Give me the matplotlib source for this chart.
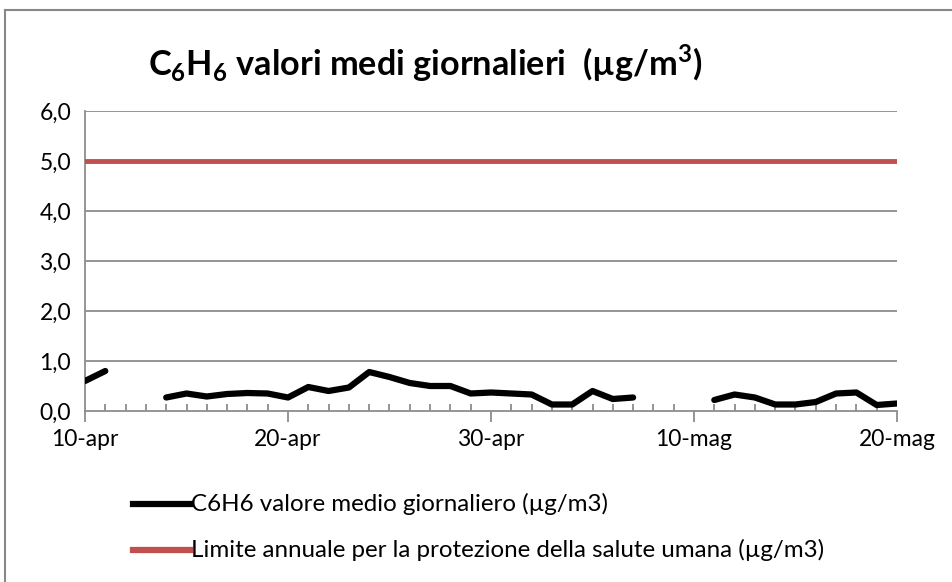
import numpy as np
import matplotlib.pyplot as plt
from matplotlib.lines import Line2D

# giorni dal 10-apr al 20-mag (0..40), NaN = dato mancante
giorni = np.arange(0, 41)
c6h6 = [0.60, 0.80, np.nan, np.nan, 0.27, 0.35, 0.29, 0.34, 0.36, 0.35,
        0.27, 0.48, 0.40, 0.47, 0.78, 0.68, 0.56, 0.50, 0.50, 0.35,
        0.37, 0.35, 0.33, 0.13, 0.13, 0.40, 0.24, 0.27, np.nan, np.nan,
        np.nan, 0.22, 0.33, 0.27, 0.13, 0.13, 0.18, 0.35, 0.37, 0.12,
        0.15]
limite = 5.0
tick_pos = [0, 10, 20, 30, 40]
tick_lab = ['10-apr', '20-apr', '30-apr', '10-mag', '20-mag']
y_ticks = [0, 1, 2, 3, 4, 5, 6]
y_lab = ['0,0', '1,0', '2,0', '3,0', '4,0', '5,0', '6,0']

plt.rcParams['font.family'] = ['Lato', 'DejaVu Sans']
plt.rcParams['mathtext.fontset'] = 'custom'
plt.rcParams['mathtext.rm'] = 'Lato'
plt.rcParams['mathtext.bf'] = 'Lato:bold'

W, H = 953, 582
fig = plt.figure(figsize=(W / 100, H / 100), dpi=100)
ax = fig.add_axes([85 / W, 1 - 411 / H, (897 - 85) / W, 300 / H])

# cornice del grafico
fig.add_artist(Line2D([5 / W, 5 / W], [0, 1 - 10 / H], color='#888888', lw=1.5))
fig.add_artist(Line2D([5 / W, 1], [1 - 10 / H, 1 - 10 / H], color='#888888', lw=1.5))

for yv in y_ticks[1:]:
    ax.axhline(yv, color='#8c8c8c', lw=1.3, zorder=1)

ax.plot(giorni, [limite] * len(giorni), color='#c0504d', lw=3.5, zorder=3)
ax.plot(giorni, c6h6, color='black', lw=4.5, zorder=4, solid_capstyle='round')

ax.set_xlim(0, 40)
ax.set_ylim(0, 6)
for s in ['top', 'right']:
    ax.spines[s].set_visible(False)
for s in ['left', 'bottom']:
    ax.spines[s].set_color('#8c8c8c')
    ax.spines[s].set_linewidth(1.3)

ax.set_yticks(y_ticks)
ax.set_yticklabels(y_lab, fontsize=16.5)
ax.tick_params(axis='y', length=0, pad=10)
ax.set_xticks(tick_pos)
ax.set_xticklabels(tick_lab, fontsize=16.5)
ax.set_xticks(giorni, minor=True)
ax.tick_params(axis='x', which='major', direction='out', length=8, width=1.3,
               color='#8c8c8c', pad=5)
ax.tick_params(axis='x', which='minor', direction='in', length=5, width=1.3,
               color='#8c8c8c')

fig.text(148 / W, 1 - 63 / H,
         r'C$_{\mathbf{6}}$H$_{\mathbf{6}}$ valori medi giornalieri  (µg/m$^{\mathbf{3}}$)',
         fontsize=24.7, fontweight='bold', va='center', ha='left')

# legenda
leg_items = [('black', 'C6H6 valore medio giornaliero (µg/m3)', 504),
             ('#c0504d', 'Limite annuale per la protezione della salute umana (µg/m3)', 550)]
for col, txt, yp in leg_items:
    fig.add_artist(Line2D([133 / W, 190 / W], [1 - yp / H, 1 - yp / H], color=col, lw=4.5))
    fig.text(191 / W, 1 - yp / H, txt, fontsize=17.4, va='center', ha='left')

fig.savefig('out.png', dpi=100)
